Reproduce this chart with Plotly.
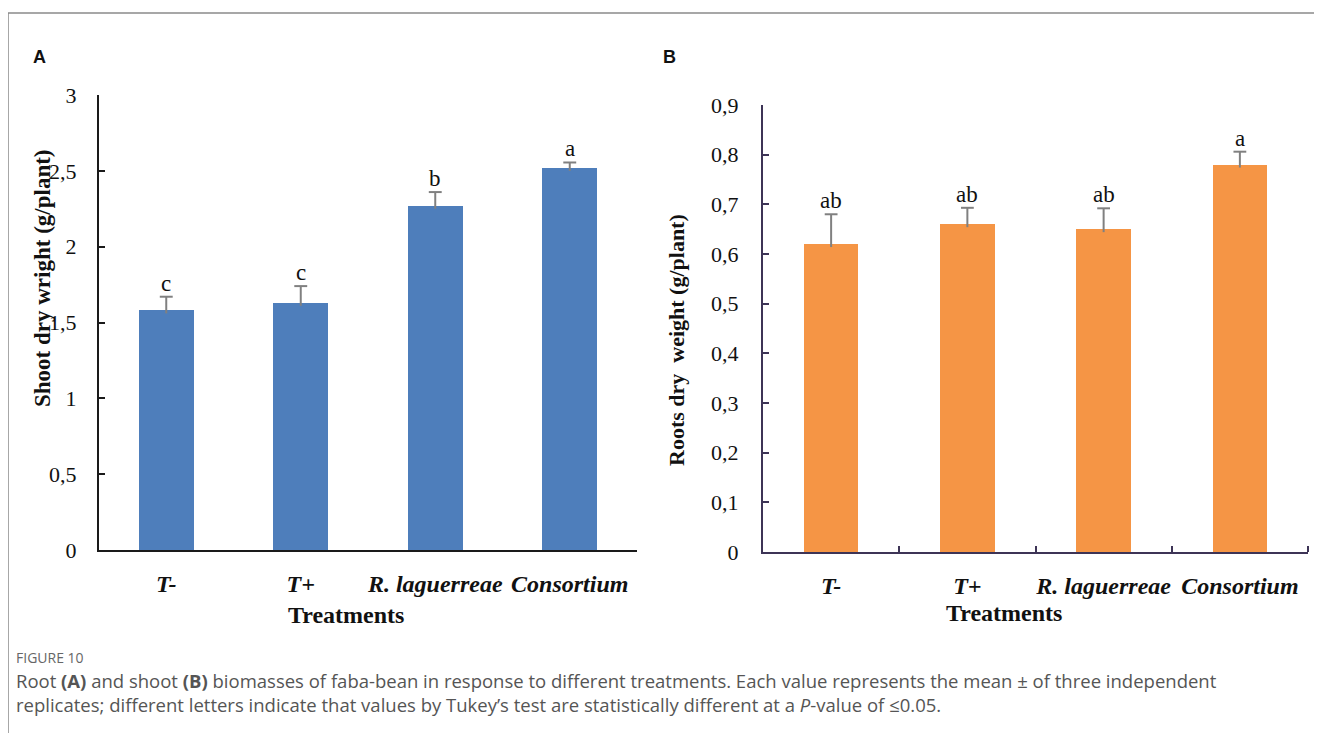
import plotly.graph_objects as go

# ---------------- data ----------------
categories = ["T-", "T+", "R. laguerreae", "Consortium"]
shoot_mean = [1.58, 1.63, 2.27, 2.52]
shoot_err = [0.09, 0.11, 0.09, 0.035]
shoot_letters = ["c", "c", "b", "a"]
root_mean = [0.62, 0.66, 0.65, 0.78]
root_err = [0.06, 0.033, 0.042, 0.026]
root_letters = ["ab", "ab", "ab", "a"]
shoot_ticks = [0, 0.5, 1, 1.5, 2, 2.5, 3]
shoot_ticktext = ["0", "0,5", "1", "1,5", "2", "2,5", "3"]
root_ticks = [0, 0.1, 0.2, 0.3, 0.4, 0.5, 0.6, 0.7, 0.8, 0.9]
root_ticktext = ["0", "0,1", "0,2", "0,3", "0,4", "0,5", "0,6", "0,7", "0,8", "0,9"]

W, H = 1322, 733
OFF = 8  # page body margin
def PX(x):
    return (x - OFF) / W
def PY(y):
    return 1 - (y - OFF) / H

SERIF = "Liberation Serif, Times New Roman, serif"
SANS = "Open Sans, Liberation Sans, sans-serif"
BLUE = "#4E7EBB"
ORANGE = "#F59545"
ERRC = "#808080"
AXA = "#1a1a1a"
AXB = "#3d3456"

xpos = list(range(len(categories)))

fig = go.Figure()

def add_panel(means, errs, letters, color, xa, ya, barw, capw, dip):
    fig.add_trace(go.Bar(x=xpos, y=means, width=barw, marker=dict(color=color, line=dict(width=0)),
                         xaxis=xa, yaxis=ya, showlegend=False, hoverinfo="skip"))
    sx, sy = [], []
    for i, (m, e) in enumerate(zip(means, errs)):
        sx += [i, i, None, i - capw, i + capw, None]
        sy += [m - dip, m + e, None, m + e, m + e, None]
    fig.add_trace(go.Scatter(x=sx, y=sy, mode="lines", line=dict(color=ERRC, width=2),
                             xaxis=xa, yaxis=ya, showlegend=False, hoverinfo="skip"))
    for i, (m, e, t) in enumerate(zip(means, errs, letters)):
        fig.add_annotation(x=i, y=m + e, xref=xa, yref=ya, text=t, showarrow=False,
                           yanchor="bottom", yshift=-1,
                           font=dict(family=SERIF, size=23, color="#111"))

add_panel(shoot_mean, shoot_err, shoot_letters, BLUE, "x", "y", 0.41, 0.048, 0.02)
add_panel(root_mean, root_err, root_letters, ORANGE, "x2", "y2", 0.40, 0.047, 0.006)

tickfont = dict(family=SERIF, size=22, color="#111")
xtickfont = dict(family=SERIF, size=24, color="#111")

fig.update_layout(
    width=W, height=H, margin=dict(l=0, r=0, t=0, b=0, pad=0, autoexpand=False),
    paper_bgcolor="white", plot_bgcolor="white",
    bargap=0, showlegend=False,
    xaxis=dict(domain=[PX(99), PX(637)], range=[-0.5, 3.5], anchor="y", automargin=False,
               tickvals=xpos, ticktext=["<b><i>%s</i></b>" % c for c in categories],
               ticks="", showgrid=False, zeroline=False,
               showline=True, linecolor=AXA, linewidth=2,
               tickfont=xtickfont, ticklabelstandoff=11),
    yaxis=dict(domain=[PY(550), PY(95)], range=[0, 3], anchor="x", automargin=False,
               tickvals=shoot_ticks, ticktext=shoot_ticktext,
               ticks="inside", ticklen=6, tickwidth=2, tickcolor=AXA,
               showgrid=False, zeroline=False, showline=True, linecolor=AXA, linewidth=2,
               tickfont=tickfont, ticklabelstandoff=16),
    xaxis2=dict(domain=[PX(763), PX(1308)], range=[-0.5, 3.5], anchor="y2", automargin=False,
                tickvals=xpos, ticktext=["<b><i>%s</i></b>" % c for c in categories],
                ticks="", showgrid=False, zeroline=False,
                showline=True, linecolor=AXB, linewidth=2,
                minor=dict(tickvals=[0.5, 1.5, 2.5, 3.5], ticks="inside", ticklen=6,
                           tickwidth=2, tickcolor=AXB),
                tickfont=xtickfont, ticklabelstandoff=11),
    yaxis2=dict(domain=[PY(552), PY(105)], range=[0, 0.9], anchor="x2", automargin=False,
                tickvals=root_ticks, ticktext=root_ticktext,
                ticks="inside", ticklen=6, tickwidth=2, tickcolor=AXB,
                showgrid=False, zeroline=False, showline=True, linecolor=AXB, linewidth=2,
                tickfont=tickfont, ticklabelstandoff=18),
)

# axis titles
fig.add_annotation(x=PX(42), y=PY(278), xref="paper", yref="paper", text="<b>Shoot dry wright (g/plant)</b>",
                   textangle=-90, showarrow=False, xanchor="center", yanchor="middle",
                   font=dict(family=SERIF, size=23, color="#111"))
fig.add_annotation(x=PX(677), y=PY(340), xref="paper", yref="paper",
                   text="<b>Roots dry\u00a0 weight (g/plant)</b>",
                   textangle=-90, showarrow=False, xanchor="center", yanchor="middle",
                   font=dict(family=SERIF, size=22, color="#111"))
fig.add_annotation(x=PX(346), y=PY(615), xref="paper", yref="paper", text="<b>Treatments</b>",
                   showarrow=False, xanchor="center", yanchor="middle",
                   font=dict(family=SERIF, size=24, color="#111"))
fig.add_annotation(x=PX(1004), y=PY(613), xref="paper", yref="paper", text="<b>Treatments</b>",
                   showarrow=False, xanchor="center", yanchor="middle",
                   font=dict(family=SERIF, size=24, color="#111"))

# panel letters
fig.add_annotation(x=PX(39), y=PY(57), xref="paper", yref="paper", text="<b>A</b>",
                   showarrow=False, xanchor="center", yanchor="middle",
                   font=dict(family="Liberation Sans, Arial, sans-serif", size=18, color="#111"))
fig.add_annotation(x=PX(669), y=PY(57), xref="paper", yref="paper", text="<b>B</b>",
                   showarrow=False, xanchor="center", yanchor="middle",
                   font=dict(family="Liberation Sans, Arial, sans-serif", size=18, color="#111"))

# caption
fig.add_annotation(x=PX(14), y=PY(657), xref="paper", yref="paper", text="FIGURE 10",
                   showarrow=False, xanchor="left", yanchor="middle",
                   font=dict(family=SANS, size=14, color="#666"))
fig.add_annotation(x=PX(14), y=PY(692), xref="paper", yref="paper", align="left",
                   text="Root <b>(A)</b> and shoot <b>(B)</b> biomasses of faba-bean in response to different treatments. "
                        "Each value represents the mean \u00b1 of three independent<br>"
                        "replicates; different letters indicate that values by Tukey\u2019s test are statistically different "
                        "at a <i>P</i>-value of \u22640.05.",
                   showarrow=False, xanchor="left", yanchor="middle",
                   font=dict(family=SANS, size=18.5, color="#555"))

# frame
fig.add_shape(type="rect", xref="paper", yref="paper", x0=PX(8), y0=-0.05, x1=1.05, y1=PY(13),
              line=dict(color="#8a8a8a", width=1.5), fillcolor="rgba(0,0,0,0)")

fig.write_html("out.html")
